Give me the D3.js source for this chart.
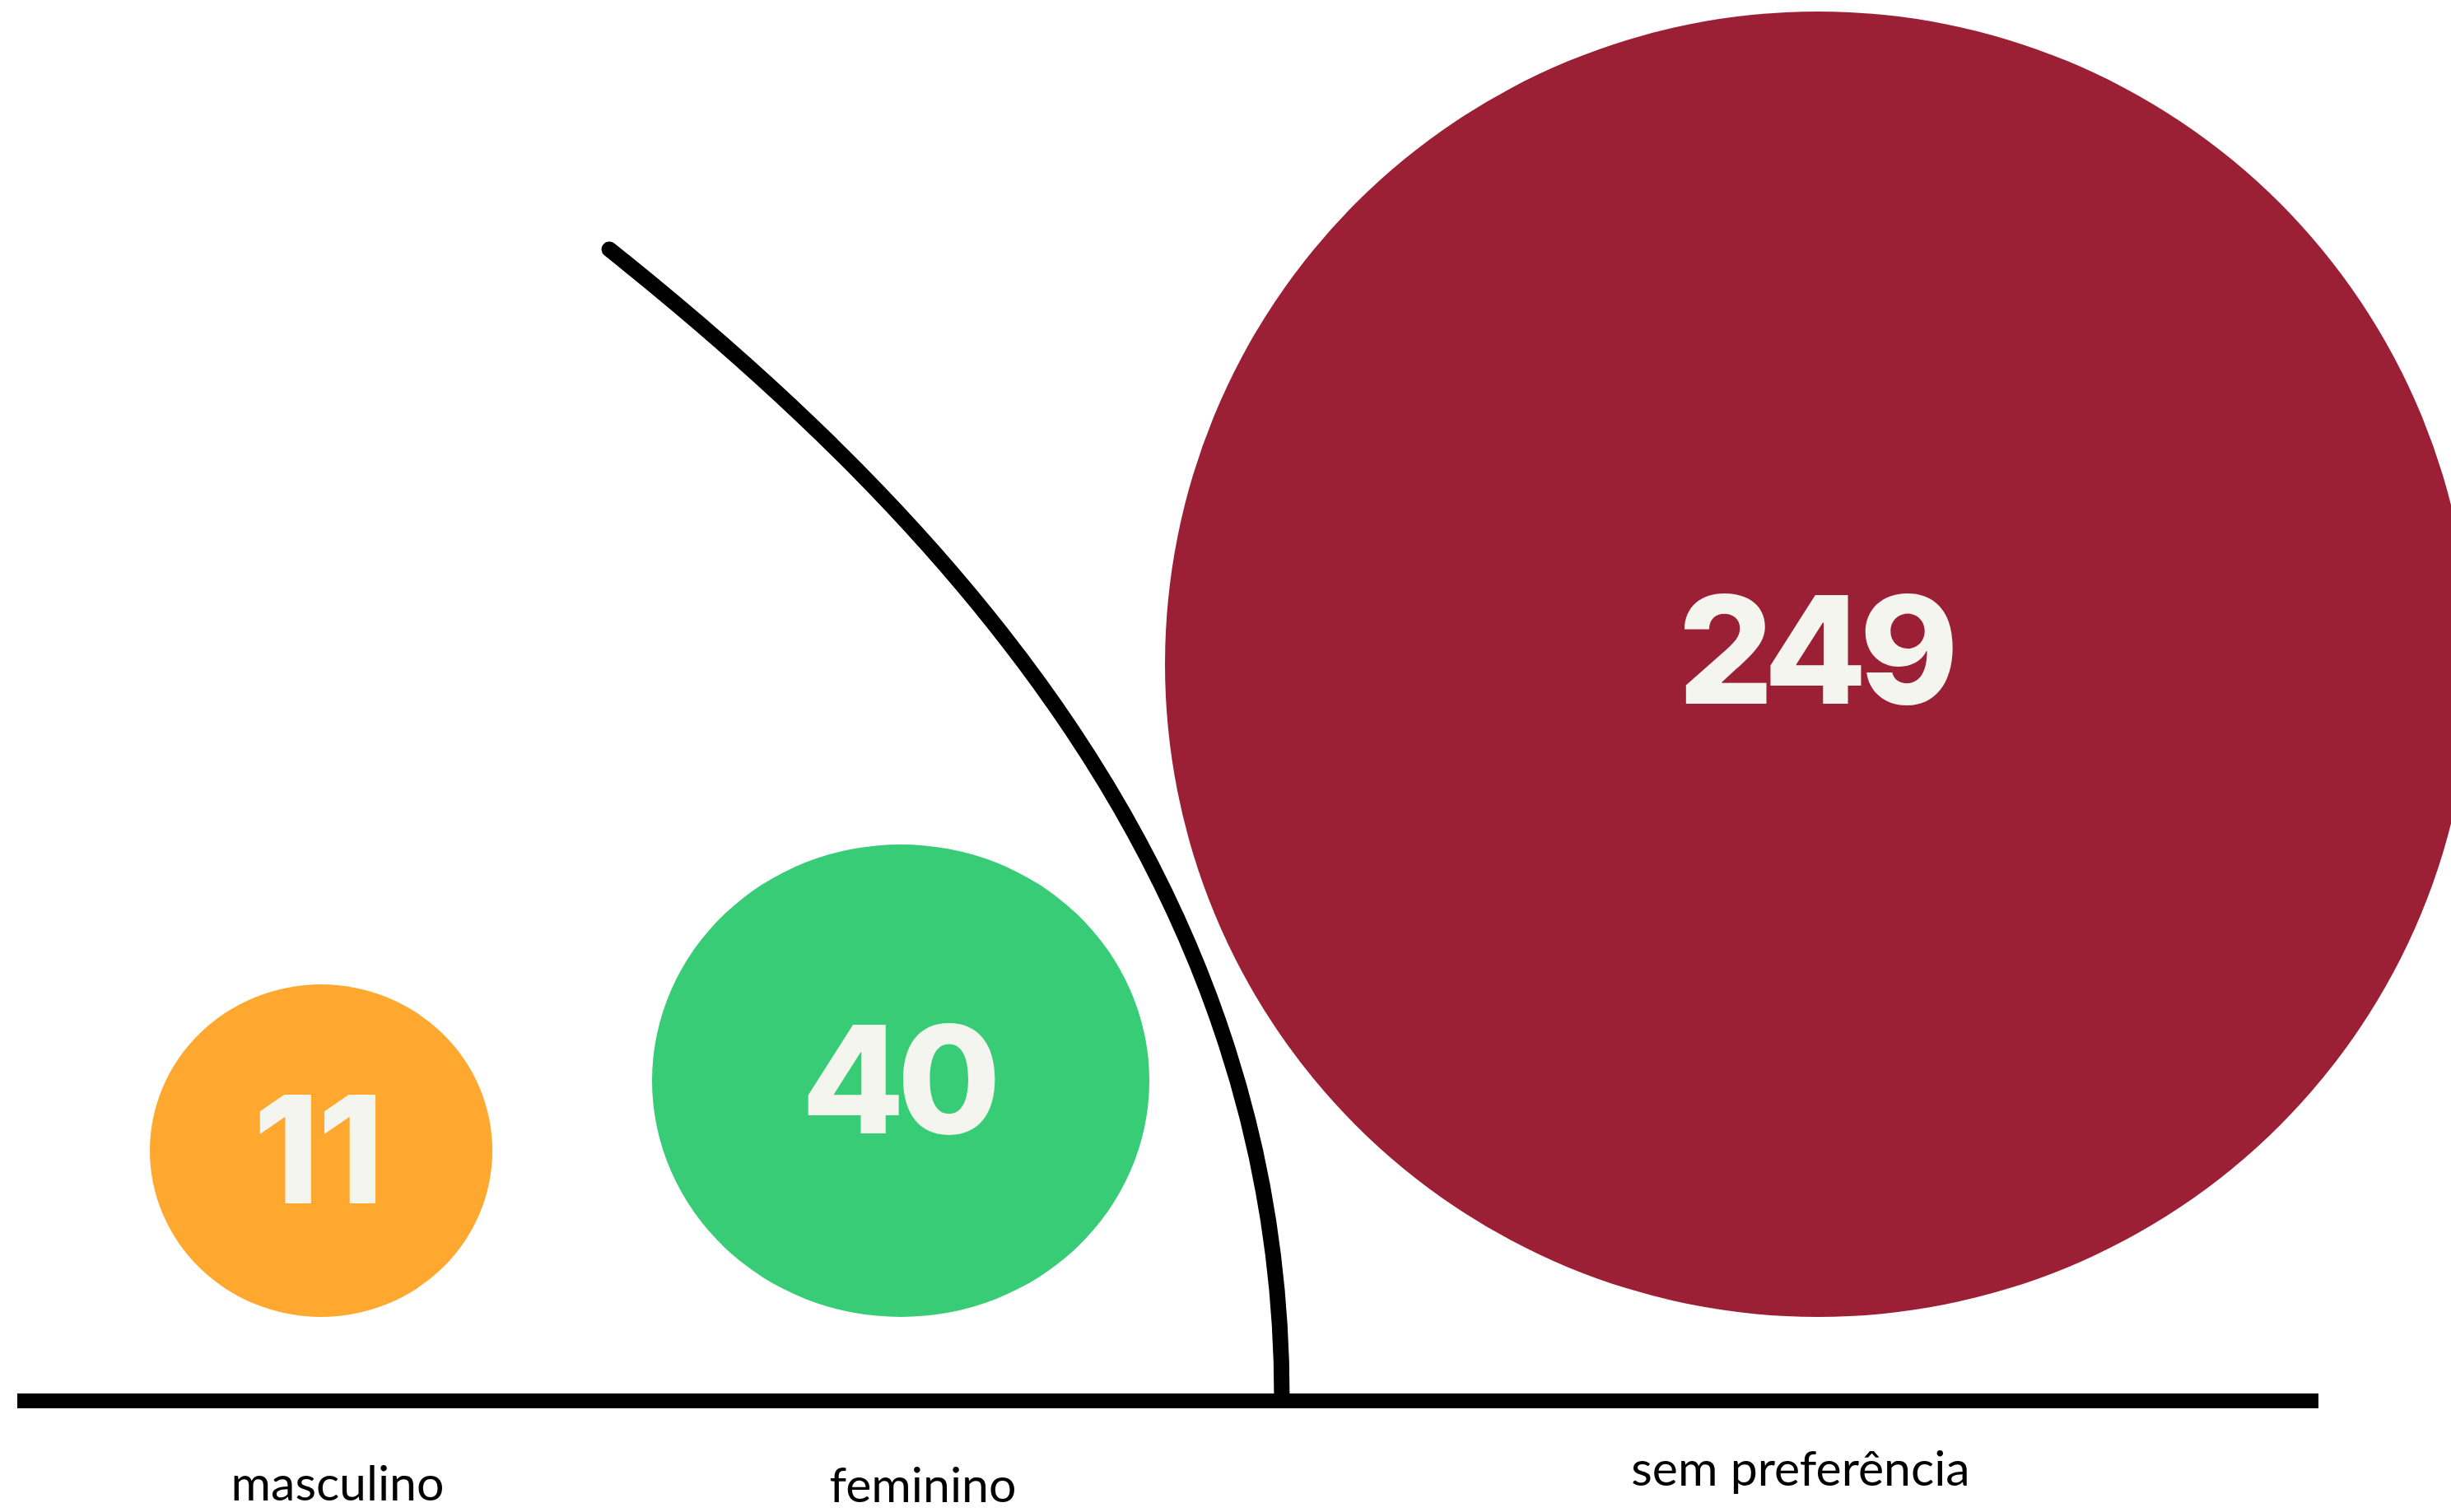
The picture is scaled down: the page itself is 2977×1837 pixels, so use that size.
<!DOCTYPE html>
<html>
<head>
<meta charset="utf-8">
<script src="https://cdn.jsdelivr.net/npm/d3@7"></script>
<style>
  html, body { margin: 0; padding: 0; background: #ffffff; }
  svg { display: block; }
</style>
</head>
<body>
<div id="chart"></div>
<script>
// dados do gráfico
const categorias = ["masculino", "feminino", "sem preferência"];
const valores = [11, 40, 249];
const cores = ["#FEA82F", "#38CC77", "#9B2035"];

// linha divisória: curva de Bézier (pontos de controle em % da largura / altura)
const divisor = [[24.86, 16.49], [38.63, 34.30], [52.30, 58.25], [52.30, 92.40]];

const width = 2977, height = 1837;

const svg = d3.select("#chart")
  .append("svg")
  .attr("width", width)
  .attr("height", height);

// escalas
const px = d3.scaleLinear().domain([0, 100]).range([0, width]);
const py = d3.scaleLinear().domain([0, 100]).range([0, height]);

const xPos = d3.scaleOrdinal().domain(categorias).range([390, 1094, 2208]); // centro das bolhas
const xLabel = d3.scaleOrdinal().domain(categorias).range([410, 1121, 2187]);
const yLabel = d3.scaleOrdinal().domain(categorias).range([1823, 1825, 1805]);
const rx = d3.scaleLinear().domain(valores).range([208, 302, 793]); // raio horizontal
const ry = d3.scaleLinear().domain(valores).range([202, 287, 793]); // raio vertical
const cor = d3.scaleOrdinal().domain(categorias).range(cores);

const chao = 1600;   // base onde as bolhas se apoiam
const eixoY = 1702;  // linha de base

const dados = categorias.map((c, i) => ({ cat: c, v: valores[i] }));

// bolhas
svg.append("g")
  .selectAll("ellipse")
  .data(dados)
  .join("ellipse")
  .attr("cx", d => xPos(d.cat))
  .attr("cy", d => chao - ry(d.v))
  .attr("rx", d => rx(d.v))
  .attr("ry", d => ry(d.v))
  .attr("fill", d => cor(d.cat));

// números dentro das bolhas
svg.append("g")
  .selectAll("text")
  .data(dados)
  .join("text")
  .attr("x", d => xPos(d.cat) - 4)
  .attr("y", d => chao - ry(d.v) + 64 - (d.v > 100 ? 16 : 0))
  .attr("text-anchor", "middle")
  .attr("font-family", "Inter, 'Liberation Sans', sans-serif")
  .attr("font-weight", 800)
  .attr("font-size", 182)
  .attr("letter-spacing", d => d.v < 20 ? -2 : -9)
  .attr("fill", "#F5F5EF")
  .text(d => d.v);

// linha divisória curva
const p = divisor.map(d => [px(d[0]), py(d[1])]);
const caminho = d3.path();
caminho.moveTo(p[0][0], p[0][1]);
caminho.bezierCurveTo(p[1][0], p[1][1], p[2][0], p[2][1], p[3][0], p[3][1]);

svg.append("path")
  .attr("d", caminho.toString())
  .attr("fill", "none")
  .attr("stroke", "#000")
  .attr("stroke-width", 19)
  .attr("stroke-linecap", "round");

// linha de base
svg.append("line")
  .attr("x1", 21)
  .attr("x2", 2816)
  .attr("y1", eixoY)
  .attr("y2", eixoY)
  .attr("stroke", "#000")
  .attr("stroke-width", 18);

// rótulos das categorias
svg.append("g")
  .selectAll("text")
  .data(dados)
  .join("text")
  .attr("x", d => xLabel(d.cat))
  .attr("y", d => yLabel(d.cat))
  .attr("text-anchor", "middle")
  .attr("font-family", "Lato, sans-serif")
  .attr("font-size", 59)
  .attr("fill", "#000")
  .text(d => d.cat);
</script>
</body>
</html>
